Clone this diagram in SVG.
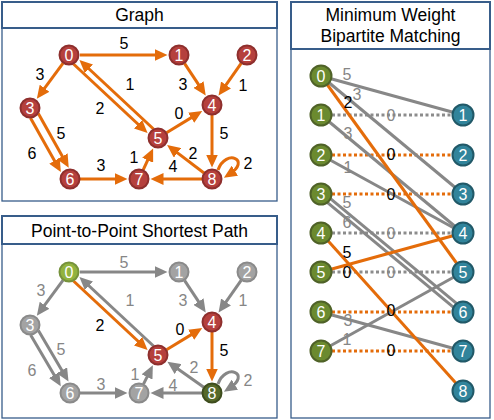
<svg xmlns="http://www.w3.org/2000/svg" width="494" height="420" viewBox="0 0 494 420">
<style>
.panel{fill:#fff;stroke:#385D8A;stroke-width:1.3}
.tbox{fill:#fff;stroke:#385D8A;stroke-width:2}
.title{font-family:"Liberation Sans",Arial,sans-serif;font-size:17.5px;fill:#000;text-anchor:middle}
.lbl{font-family:"Liberation Sans",Arial,sans-serif;font-size:16px;text-anchor:middle}
.lk{fill:#000}
.lg{fill:#868686}
.nt{font-family:"Liberation Sans",Arial,sans-serif;font-size:16px;fill:#fff;text-anchor:middle}
.eo{stroke:#E46C0A;stroke-width:3;fill:none;marker-end:url(#ao)}
.eg{stroke:#878787;stroke-width:3;fill:none;marker-end:url(#ag)}
.bo{stroke:#E46C0A;stroke-width:3;fill:none}
.bg{stroke:#878787;stroke-width:3;fill:none}
.do{stroke:#E46C0A;stroke-width:3;fill:none;stroke-dasharray:3 2.5}
.dg{stroke:#8C8C8C;stroke-width:3;fill:none;stroke-dasharray:3 2.5}
.nr{fill:#B5403D;stroke:#8E2F2D;stroke-width:2}
.ngr{fill:#A3A3A3;stroke:#8A8A8A;stroke-width:2}
.nlg{fill:#92B33F;stroke:#76923C;stroke-width:2}
.ndg{fill:#56692A;stroke:#3E4D1E;stroke-width:2}
.nol{fill:#6B8A2F;stroke:#4F6228;stroke-width:2}
.ntl{fill:#31849B;stroke:#215968;stroke-width:2}
</style>
<defs>
<marker id="ao" markerUnits="userSpaceOnUse" markerWidth="14" markerHeight="12" refX="7" refY="6" orient="auto"><path d="M0,0 L13,6 L0,12 z" fill="#E46C0A"/></marker>
<marker id="ag" markerUnits="userSpaceOnUse" markerWidth="14" markerHeight="12" refX="7" refY="6" orient="auto"><path d="M0,0 L13,6 L0,12 z" fill="#878787"/></marker>
</defs>
<rect width="494" height="420" fill="#fff"/>

<!-- Panel 1 -->
<g id="panel-graph">
<rect class="panel" x="2" y="2" width="275" height="199"/>
<rect class="tbox" x="2" y="2" width="275" height="26"/>
<text class="title" x="139.5" y="21">Graph</text>
</g>
<g id="g1-edges">
<line class="eo" x1="80" y1="55" x2="161.5" y2="55"/>
<line class="eo" x1="63.1" y1="63.1" x2="40.4" y2="93.9"/>
<line class="eo" x1="73.5" y1="64" x2="143.2" y2="129"/>
<line class="eo" x1="153.5" y1="129" x2="83.8" y2="64"/>
<line class="eo" x1="184.5" y1="63.4" x2="202.4" y2="90.4"/>
<line class="eo" x1="241.3" y1="63.2" x2="222" y2="90.7"/>
<line class="eo" x1="166.5" y1="132.8" x2="197.1" y2="114.1"/>
<line class="eo" x1="212" y1="115" x2="212" y2="161.5"/>
<line class="eo" x1="30.5" y1="118" x2="57.9" y2="166.8"/>
<line class="eo" x1="38.3" y1="113.6" x2="65.8" y2="162.4"/>
<line class="eo" x1="80" y1="179" x2="121.5" y2="179"/>
<line class="eo" x1="143.2" y1="169.9" x2="150.6" y2="153.9"/>
<line class="eo" x1="204" y1="173" x2="171.9" y2="148.6"/>
<line class="eo" x1="202" y1="179" x2="156.5" y2="179"/>
<path class="eo" d="M218,170 C226,148 252,160 229,174.5"/>
<g class="lbl lk">
<text x="124" y="49">5</text>
<text x="40" y="80">3</text>
<text x="100" y="114">2</text>
<text x="130" y="90">1</text>
<text x="183" y="90">3</text>
<text x="243" y="91">1</text>
<text x="179" y="119">0</text>
<text x="224" y="139">5</text>
<text x="61" y="139">5</text>
<text x="32" y="159">6</text>
<text x="101" y="171">3</text>
<text x="134" y="163">1</text>
<text x="193" y="159">2</text>
<text x="173" y="172">4</text>
<text x="248" y="169">2</text>
</g>
</g>
<g id="g1-n0"><circle class="nr" cx="69" cy="55" r="9.5"/><text class="nt" x="69" y="60.8">0</text></g>
<g id="g1-n1"><circle class="nr" cx="179" cy="55" r="9.5"/><text class="nt" x="179" y="60.8">1</text></g>
<g id="g1-n2"><circle class="nr" cx="247" cy="55" r="9.5"/><text class="nt" x="247" y="60.8">2</text></g>
<g id="g1-n3"><circle class="nr" cx="30" cy="108" r="9.5"/><text class="nt" x="30" y="113.8">3</text></g>
<g id="g1-n4"><circle class="nr" cx="212" cy="105" r="9.5"/><text class="nt" x="212" y="110.8">4</text></g>
<g id="g1-n5"><circle class="nr" cx="158" cy="138" r="9.5"/><text class="nt" x="158" y="143.8">5</text></g>
<g id="g1-n6"><circle class="nr" cx="70" cy="179" r="9.5"/><text class="nt" x="70" y="184.8">6</text></g>
<g id="g1-n7"><circle class="nr" cx="139" cy="179" r="9.5"/><text class="nt" x="139" y="184.8">7</text></g>
<g id="g1-n8"><circle class="nr" cx="212" cy="179" r="9.5"/><text class="nt" x="212" y="184.8">8</text></g>

<!-- Panel 2 -->
<g id="panel-path">
<rect class="panel" x="2" y="216" width="275" height="202"/>
<rect class="tbox" x="2" y="216" width="275" height="28"/>
<text class="title" x="139.5" y="236.5">Point-to-Point Shortest Path</text>
</g>
<g id="g2-edges">
<line class="eg" x1="80" y1="272" x2="161.5" y2="272"/>
<line class="eg" x1="63.1" y1="280.1" x2="40.4" y2="310.9"/>
<line class="eg" x1="153.5" y1="346" x2="83.8" y2="281"/>
<line class="eg" x1="184.5" y1="280.4" x2="202.4" y2="307.4"/>
<line class="eg" x1="241.3" y1="280.2" x2="222" y2="307.7"/>
<line class="eg" x1="30.65" y1="335" x2="57.72" y2="381"/>
<line class="eg" x1="38.41" y1="330.4" x2="65.48" y2="376.4"/>
<line class="eg" x1="80" y1="393" x2="121.5" y2="393"/>
<line class="eg" x1="143.5" y1="384.1" x2="150.18" y2="370.64"/>
<line class="eg" x1="203.8" y1="387.2" x2="172.32" y2="365.08"/>
<line class="eg" x1="202" y1="393" x2="156.5" y2="393"/>
<path class="eg" d="M218,384 C226,362 252,374 229,388.5"/>
<line class="eo" x1="73.5" y1="281" x2="143.2" y2="346"/>
<line class="eo" x1="166.5" y1="349.8" x2="197.1" y2="331.1"/>
<line class="eo" x1="212" y1="332" x2="212" y2="375.5"/>
<g class="lbl lg">
<text x="124" y="267.5">5</text>
<text x="41" y="296">3</text>
<text x="130" y="306">1</text>
<text x="183" y="305.5">3</text>
<text x="243" y="306">1</text>
<text x="61" y="354.5">5</text>
<text x="32" y="376">6</text>
<text x="101" y="389.5">3</text>
<text x="135" y="379.5">1</text>
<text x="194" y="372.5">2</text>
<text x="173" y="391">4</text>
<text x="248" y="386">2</text>
</g>
<g class="lbl lk">
<text x="100" y="331">2</text>
<text x="180" y="334.5">0</text>
<text x="224" y="356">5</text>
</g>
</g>
<g id="g2-n0"><circle class="nlg" cx="69" cy="272" r="9.5"/><text class="nt" x="69" y="277.8">0</text></g>
<g id="g2-n1"><circle class="ngr" cx="179" cy="272" r="9.5"/><text class="nt" x="179" y="277.8">1</text></g>
<g id="g2-n2"><circle class="ngr" cx="247" cy="272" r="9.5"/><text class="nt" x="247" y="277.8">2</text></g>
<g id="g2-n3"><circle class="ngr" cx="30" cy="325" r="9.5"/><text class="nt" x="30" y="330.8">3</text></g>
<g id="g2-n4"><circle class="nr" cx="212" cy="322" r="9.5"/><text class="nt" x="212" y="327.8">4</text></g>
<g id="g2-n5"><circle class="nr" cx="158" cy="355" r="9.5"/><text class="nt" x="158" y="360.8">5</text></g>
<g id="g2-n6"><circle class="ngr" cx="70" cy="393" r="9.5"/><text class="nt" x="70" y="398.8">6</text></g>
<g id="g2-n7"><circle class="ngr" cx="139" cy="393" r="9.5"/><text class="nt" x="139" y="398.8">7</text></g>
<g id="g2-n8"><circle class="ndg" cx="212" cy="393" r="9.5"/><text class="nt" x="212" y="398.8">8</text></g>

<!-- Panel 3 -->
<g id="panel-match">
<rect class="panel" x="291" y="2" width="199" height="416"/>
<rect class="tbox" x="291" y="2" width="199" height="47"/>
<text class="title" x="390.5" y="20.5">Minimum Weight</text>
<text class="title" x="390.5" y="41.5">Bipartite Matching</text>
</g>
<g id="bp-edges">
<line class="dg" x1="321" y1="115" x2="463" y2="115"/>
<line class="do" x1="321" y1="155" x2="463" y2="155"/>
<line class="do" x1="321" y1="194" x2="463" y2="194"/>
<line class="dg" x1="321" y1="233" x2="463" y2="233"/>
<line class="dg" x1="321" y1="272" x2="463" y2="272"/>
<line class="do" x1="321" y1="312" x2="463" y2="312"/>
<line class="do" x1="321" y1="351" x2="463" y2="351"/>
<line class="bg" x1="321" y1="76" x2="463" y2="115"/>
<line class="bg" x1="321" y1="76" x2="463" y2="194"/>
<line class="bg" x1="321" y1="115" x2="463" y2="233"/>
<line class="bg" x1="321" y1="155" x2="463" y2="233"/>
<line class="bg" x1="319.4" y1="195.9" x2="461.4" y2="313.9"/>
<line class="bg" x1="322.6" y1="192.1" x2="464.6" y2="310.1"/>
<line class="bg" x1="321" y1="312" x2="463" y2="351"/>
<line class="bg" x1="321" y1="351" x2="463" y2="272"/>
<line class="bo" x1="321" y1="76" x2="463" y2="272"/>
<line class="bo" x1="321" y1="233" x2="463" y2="391"/>
<line class="bo" x1="321" y1="272" x2="463" y2="233"/>
<g class="lbl lg">
<text x="347" y="80">5</text>
<text x="357" y="100">3</text>
<text x="348" y="139">3</text>
<text x="348" y="173">1</text>
<text x="347" y="207.5">5</text>
<text x="347" y="227.5">6</text>
<text x="348" y="326">3</text>
<text x="347" y="345">1</text>
<text x="391" y="120.5">0</text>
<text x="391" y="238.5">0</text>
<text x="391" y="277.5">0</text>
</g>
<g class="lbl lk">
<text x="348" y="108">2</text>
<text x="347" y="257.5">5</text>
<text x="347" y="278">0</text>
<text x="391" y="160">0</text>
<text x="391" y="199.5">0</text>
<text x="391" y="316">0</text>
<text x="391" y="355.5">0</text>
</g>
</g>
<g id="L0"><circle class="nol" cx="321" cy="76" r="10.5"/><text class="nt" x="321" y="81.8">0</text></g>
<g id="L1"><circle class="nol" cx="321" cy="115" r="10.5"/><text class="nt" x="321" y="120.8">1</text></g>
<g id="L2"><circle class="nol" cx="321" cy="155" r="10.5"/><text class="nt" x="321" y="160.8">2</text></g>
<g id="L3"><circle class="nol" cx="321" cy="194" r="10.5"/><text class="nt" x="321" y="199.8">3</text></g>
<g id="L4"><circle class="nol" cx="321" cy="233" r="10.5"/><text class="nt" x="321" y="238.8">4</text></g>
<g id="L5"><circle class="nol" cx="321" cy="272" r="10.5"/><text class="nt" x="321" y="277.8">5</text></g>
<g id="L6"><circle class="nol" cx="321" cy="312" r="10.5"/><text class="nt" x="321" y="317.8">6</text></g>
<g id="L7"><circle class="nol" cx="321" cy="351" r="10.5"/><text class="nt" x="321" y="356.8">7</text></g>
<g id="R1"><circle class="ntl" cx="463" cy="115" r="10.5"/><text class="nt" x="463" y="120.8">1</text></g>
<g id="R2"><circle class="ntl" cx="463" cy="155" r="10.5"/><text class="nt" x="463" y="160.8">2</text></g>
<g id="R3"><circle class="ntl" cx="463" cy="194" r="10.5"/><text class="nt" x="463" y="199.8">3</text></g>
<g id="R4"><circle class="ntl" cx="463" cy="233" r="10.5"/><text class="nt" x="463" y="238.8">4</text></g>
<g id="R5"><circle class="ntl" cx="463" cy="272" r="10.5"/><text class="nt" x="463" y="277.8">5</text></g>
<g id="R6"><circle class="ntl" cx="463" cy="312" r="10.5"/><text class="nt" x="463" y="317.8">6</text></g>
<g id="R7"><circle class="ntl" cx="463" cy="351" r="10.5"/><text class="nt" x="463" y="356.8">7</text></g>
<g id="R8"><circle class="ntl" cx="463" cy="391" r="10.5"/><text class="nt" x="463" y="396.8">8</text></g>
</svg>
